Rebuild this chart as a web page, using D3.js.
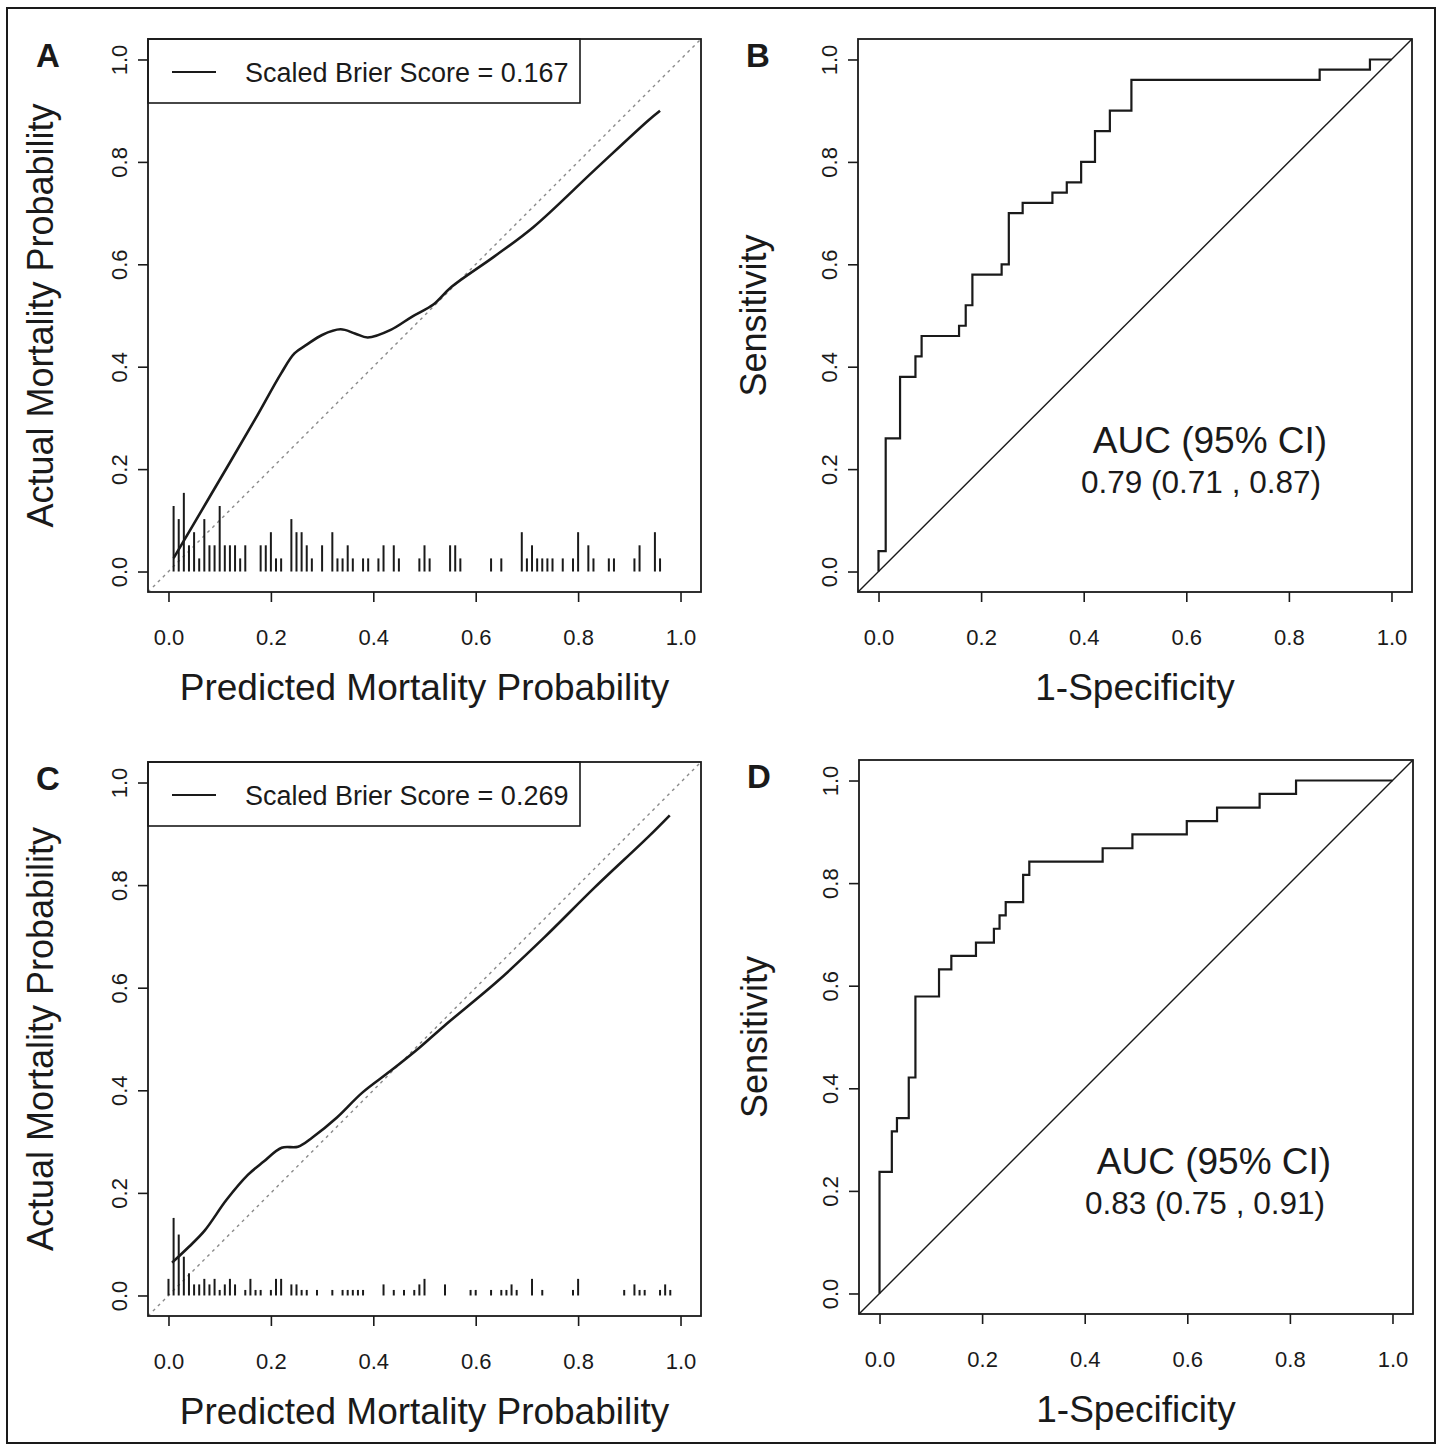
<!DOCTYPE html>
<html>
<head>
<meta charset="utf-8">
<script src="https://cdn.jsdelivr.net/npm/d3@7"></script>
<style>
  body { margin: 0; background: #fff; }
  svg { display: block; font-family: "Liberation Sans", Arial, sans-serif; }
</style>
</head>
<body>
<svg id="chart" width="1442" height="1451"></svg>
<script>
// ---- panel A: calibration curve (loess) + rug of predicted probs ----
const calAPred = [0.01, 0.08, 0.169, 0.22, 0.246, 0.27, 0.30, 0.336, 0.364, 0.389, 0.434, 0.476, 0.518, 0.553, 0.636, 0.713, 0.832, 0.937, 0.96];
const calAObs  = [0.026, 0.145, 0.297, 0.387, 0.426, 0.443, 0.462, 0.473, 0.465, 0.457, 0.472, 0.498, 0.522, 0.556, 0.615, 0.673, 0.784, 0.881, 0.90];
const rugAPred  = [0.01, 0.02, 0.03, 0.04, 0.05, 0.06, 0.07, 0.08, 0.09, 0.10, 0.11, 0.12, 0.13, 0.14, 0.15,
  0.18, 0.19, 0.20, 0.21, 0.22, 0.24, 0.25, 0.26, 0.27, 0.28, 0.30, 0.32, 0.33, 0.34, 0.35, 0.36, 0.38, 0.39,
  0.41, 0.42, 0.44, 0.45, 0.49, 0.50, 0.51, 0.55, 0.56, 0.57, 0.63, 0.65, 0.69, 0.70, 0.71, 0.72, 0.73, 0.74,
  0.75, 0.77, 0.79, 0.80, 0.82, 0.83, 0.86, 0.87, 0.91, 0.92, 0.95, 0.96];
const rugACount = [5, 4, 6, 2, 3, 1, 4, 2, 2, 5, 2, 2, 2, 1, 2,
  2, 2, 3, 1, 1, 4, 3, 3, 2, 1, 2, 3, 1, 1, 2, 1, 1, 1,
  1, 2, 2, 1, 1, 2, 1, 2, 2, 1, 1, 1, 3, 1, 2, 1, 1, 1,
  1, 1, 1, 3, 2, 1, 1, 1, 1, 2, 3, 1];
const brierA = '0.167';

// ---- panel B: ROC ----
const rocBFpr = [0, 0, 0.014, 0.042, 0.072, 0.084, 0.157, 0.170, 0.183, 0.240, 0.254, 0.281, 0.339, 0.367, 0.395, 0.422, 0.451, 0.493, 0.860, 0.958, 1.0];
const rocBTpr = [0, 0.04, 0.26, 0.38, 0.42, 0.46, 0.48, 0.52, 0.58, 0.60, 0.70, 0.72, 0.74, 0.76, 0.80, 0.86, 0.90, 0.96, 0.98, 1.0, 1.0];
const aucB = ['AUC (95% CI)', '0.79 (0.71 , 0.87)'];

// ---- panel C: calibration ----
const calCPred = [0.007, 0.04, 0.071, 0.113, 0.155, 0.186, 0.221, 0.253, 0.281, 0.329, 0.378, 0.434, 0.490, 0.539, 0.643, 0.734, 0.832, 0.937, 0.979];
const calCObs  = [0.064, 0.095, 0.127, 0.186, 0.235, 0.261, 0.288, 0.290, 0.308, 0.347, 0.395, 0.438, 0.483, 0.526, 0.613, 0.698, 0.795, 0.894, 0.936];
const rugCPred  = [0.00, 0.01, 0.02, 0.03, 0.04, 0.05, 0.06, 0.07, 0.08, 0.09, 0.10, 0.11, 0.12, 0.13, 0.15, 0.16,
  0.17, 0.18, 0.20, 0.21, 0.22, 0.24, 0.25, 0.26, 0.27, 0.29, 0.32, 0.34, 0.35, 0.36, 0.37, 0.38, 0.42, 0.44,
  0.46, 0.48, 0.49, 0.50, 0.54, 0.59, 0.60, 0.63, 0.65, 0.66, 0.67, 0.68, 0.71, 0.73, 0.79, 0.80, 0.89, 0.91,
  0.92, 0.93, 0.96, 0.97, 0.98];
const rugCCount = [3, 14, 11, 7, 4, 2, 2, 3, 2, 3, 1, 2, 3, 2, 1, 3,
  1, 1, 1, 3, 3, 2, 2, 1, 1, 1, 1, 1, 1, 1, 1, 1, 2, 1,
  1, 1, 2, 3, 2, 1, 1, 1, 1, 1, 2, 1, 3, 1, 1, 3, 1, 2,
  1, 1, 1, 2, 1];
const brierC = '0.269';

// ---- panel D: ROC ----
const rocDFpr = [0, 0, 0.024, 0.034, 0.057, 0.070, 0.116, 0.140, 0.188, 0.223, 0.234, 0.246, 0.280, 0.292, 0.435, 0.493, 0.599, 0.658, 0.741, 0.812, 1.0];
const rocDTpr = [0, 0.237, 0.316, 0.342, 0.421, 0.579, 0.632, 0.658, 0.684, 0.711, 0.737, 0.763, 0.816, 0.842, 0.868, 0.895, 0.921, 0.947, 0.974, 1.0, 1.0];
const aucD = ['AUC (95% CI)', '0.83 (0.75 , 0.91)'];

const tickVals = [0, 0.2, 0.4, 0.6, 0.8, 1.0];

const svg = d3.select('#chart');
const ink = '#1a1a1a';

// outer frame
svg.append('rect')
  .attr('x', 7).attr('y', 8).attr('width', 1428).attr('height', 1435)
  .attr('fill', 'none').attr('stroke', ink).attr('stroke-width', 2);

// set up one panel: axes, titles, letter
function panel(box, letter, xTitle, yTitle, yTitleOff) {
  const g = svg.append('g');
  const x = d3.scaleLinear().domain([-0.04, 1.04]).range([box.x0, box.x1]);
  const y = d3.scaleLinear().domain([-0.04, 1.04]).range([box.y1, box.y0]);

  const ax = g.append('g')
    .attr('transform', `translate(0,${box.y1})`)
    .call(d3.axisBottom(x).tickValues(tickVals).tickFormat(d3.format('.1f')).tickSize(10));
  ax.select('.domain').remove();
  ax.attr('font-size', 22).attr('font-family', null);
  ax.selectAll('line').attr('stroke', ink).attr('stroke-width', 1.6);
  ax.selectAll('text').attr('y', 53).attr('dy', null).attr('fill', ink);

  const ay = g.append('g')
    .attr('transform', `translate(${box.x0},0)`)
    .call(d3.axisLeft(y).tickValues(tickVals).tickFormat(d3.format('.1f')).tickSize(10));
  ay.select('.domain').remove();
  ay.attr('font-size', 22).attr('font-family', null);
  ay.selectAll('line').attr('stroke', ink).attr('stroke-width', 1.6);
  ay.selectAll('text')
    .attr('x', null).attr('dy', null)
    .attr('text-anchor', 'middle')
    .attr('transform', 'translate(-21,0) rotate(-90)')
    .attr('fill', ink);

  g.append('text')
    .attr('x', (box.x0 + box.x1) / 2).attr('y', box.y1 + 108)
    .attr('text-anchor', 'middle').attr('font-size', 37).attr('fill', ink)
    .text(xTitle);

  g.append('text')
    .attr('transform', `translate(${box.x0 - yTitleOff},${(box.y0 + box.y1) / 2}) rotate(-90)`)
    .attr('text-anchor', 'middle').attr('font-size', 36).attr('fill', ink)
    .text(yTitle);

  g.append('text')
    .attr('x', box.x0 - 112).attr('y', box.y0 + 28)
    .attr('font-family', '"Liberation Sans Narrow", "Liberation Sans", Arial, sans-serif')
    .attr('font-weight', 'bold').attr('font-size', 33).attr('fill', ink)
    .text(letter);

  const plot = g.append('g');
  return {g, plot, x, y, box};
}

function drawBox(p) {
  p.g.append('rect')
    .attr('x', p.box.x0).attr('y', p.box.y0)
    .attr('width', p.box.x1 - p.box.x0).attr('height', p.box.y1 - p.box.y0)
    .attr('fill', 'none').attr('stroke', ink).attr('stroke-width', 1.8);
}

function calibration(p, pred, obs, rugPred, rugCount, countUnit, brier) {
  const {plot, x, y} = p;
  // ideal line
  plot.append('line')
    .attr('x1', x(-0.04)).attr('y1', y(-0.04)).attr('x2', x(1.04)).attr('y2', y(1.04))
    .attr('stroke', '#8a8a8a').attr('stroke-width', 1.4).attr('stroke-dasharray', '3,4');

  // rug spikes
  const h = d3.scaleLinear().domain([0, 1]).range([0, countUnit]);
  plot.selectAll('line.rug')
    .data(rugPred.map((v, i) => ({v, c: rugCount[i]})))
    .join('line').attr('class', 'rug')
    .attr('x1', d => x(d.v)).attr('x2', d => x(d.v))
    .attr('y1', y(0)).attr('y2', d => y(h(d.c)))
    .attr('stroke', ink).attr('stroke-width', 2);

  // smoothed curve
  const line = d3.line()
    .x(d => x(d[0])).y(d => y(d[1]))
    .curve(d3.curveCatmullRom.alpha(0.5));
  plot.append('path')
    .datum(pred.map((v, i) => [v, obs[i]]))
    .attr('d', line)
    .attr('fill', 'none').attr('stroke', ink).attr('stroke-width', 2.6)
    .attr('stroke-linejoin', 'round');

  // legend, top-left
  const lg = p.g.append('g');
  const bx = p.box.x0, by = p.box.y0;
  lg.append('rect')
    .attr('x', bx).attr('y', by).attr('width', 432).attr('height', 64)
    .attr('fill', '#fff').attr('stroke', ink).attr('stroke-width', 1.6);
  lg.append('line')
    .attr('x1', bx + 24).attr('x2', bx + 68).attr('y1', by + 33).attr('y2', by + 33)
    .attr('stroke', ink).attr('stroke-width', 2);
  lg.append('text')
    .attr('x', bx + 97).attr('y', by + 43)
    .attr('font-size', 27).attr('fill', ink)
    .text('Scaled Brier Score = ' + brier);
}

function roc(p, fpr, tpr, auc, tx, ty) {
  const {plot, x, y} = p;
  plot.append('line')
    .attr('x1', x(-0.04)).attr('y1', y(-0.04)).attr('x2', x(1.04)).attr('y2', y(1.04))
    .attr('stroke', ink).attr('stroke-width', 1.4);

  const line = d3.line()
    .x(d => x(d[0])).y(d => y(d[1]))
    .curve(d3.curveStepAfter);
  plot.append('path')
    .datum(fpr.map((v, i) => [v, tpr[i]]))
    .attr('d', line)
    .attr('fill', 'none').attr('stroke', ink).attr('stroke-width', 2.2);

  plot.append('text')
    .attr('x', tx).attr('y', ty)
    .attr('text-anchor', 'middle').attr('font-size', 37).attr('fill', ink)
    .text(auc[0]);
  plot.append('text')
    .attr('x', tx - 9).attr('y', ty + 40)
    .attr('text-anchor', 'middle').attr('font-size', 31.5).attr('fill', ink)
    .text(auc[1]);
}

const pA = panel({x0: 148, x1: 701, y0: 39, y1: 592}, 'A', 'Predicted Mortality Probability', 'Actual Mortality Probability', 95);
calibration(pA, calAPred, calAObs, rugAPred, rugACount, 0.0256, brierA);
drawBox(pA);

const pB = panel({x0: 858, x1: 1412, y0: 39, y1: 592}, 'B', '1-Specificity', 'Sensitivity', 92);
roc(pB, rocBFpr, rocBTpr, aucB, 1210, 453);
drawBox(pB);

const pC = panel({x0: 148, x1: 701, y0: 762, y1: 1316}, 'C', 'Predicted Mortality Probability', 'Actual Mortality Probability', 95);
calibration(pC, calCPred, calCObs, rugCPred, rugCCount, 0.0108, brierC);
drawBox(pC);

const pD = panel({x0: 859, x1: 1413, y0: 760, y1: 1314}, 'D', '1-Specificity', 'Sensitivity', 92);
roc(pD, rocDFpr, rocDTpr, aucD, 1214, 1174);
drawBox(pD);
</script>
</body>
</html>
